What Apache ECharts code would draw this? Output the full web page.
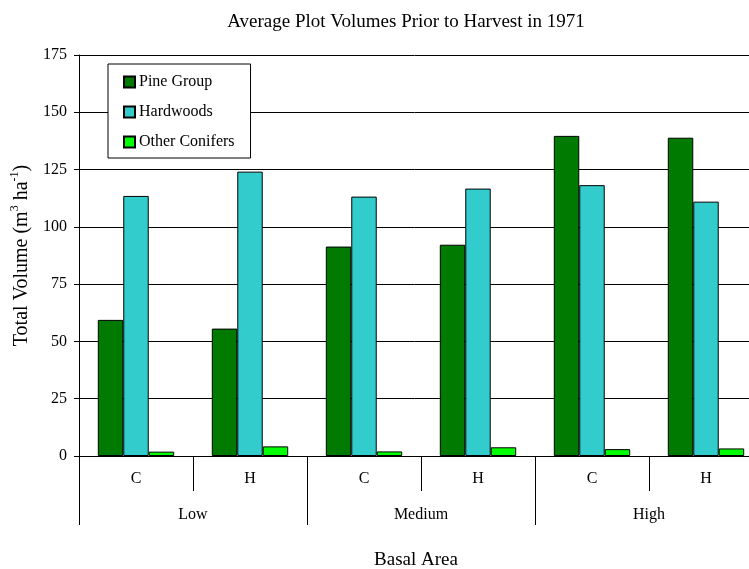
<!DOCTYPE html>
<html>
<head>
<meta charset="utf-8">
<script src="https://cdn.jsdelivr.net/npm/echarts@6/dist/echarts.min.js"></script>
<style>
  html, body { margin: 0; padding: 0; background: #fff; }
  #main { width: 749px; height: 569px; }
</style>
</head>
<body>
<div id="main"></div>
<script>
// plot volumes before the 1971 harvest
var treatments = ['C', 'H', 'C', 'H', 'C', 'H'];
var basalAreas = ['Low', 'Medium', 'High'];
var pineGroup = [59.4, 55.6, 91.4, 92.2, 139.7, 138.9];
var hardwoods = [113.5, 124.1, 113.2, 116.7, 118.2, 111.0];
var otherConifers = [1.9, 4.2, 2.0, 3.8, 3.0, 3.3];

var font = '"Liberation Serif", "Times New Roman", serif';

var dom = document.getElementById('main');
var myChart = echarts.init(dom);

var barStyle = function (color) {
    return { color: color, borderColor: '#000', borderWidth: 1 };
};

var option = {
    animation: false,
    textStyle: { fontFamily: font, color: '#000' },
    title: {
        text: 'Average Plot Volumes Prior to Harvest in 1971',
        left: 401,
        textAlign: 'center',
        top: 8,
        textStyle: { fontFamily: font, fontSize: 19, fontWeight: 'normal', color: '#000' }
    },
    legend: {
        orient: 'vertical',
        left: 108,
        top: 64,
        padding: [10, 16, 8, 15],
        itemGap: 14,
        itemWidth: 11,
        itemHeight: 11,
        icon: 'rect',
        backgroundColor: '#fff',
        borderColor: '#000',
        borderWidth: 1,
        textStyle: { fontFamily: font, fontSize: 16, color: '#000', padding: [0, 0, 0, -1] },
        data: ['Pine Group', 'Hardwoods', 'Other Conifers']
    },
    grid: { left: 79, top: 55, bottom: 113, right: -14, outerBoundsMode: 'none' },
    xAxis: [
        {
            type: 'category',
            position: 'bottom',
            data: treatments,
            axisLine: { lineStyle: { color: '#000', width: 1 } },
            axisTick: { show: true, interval: 0, length: 35, lineStyle: { color: '#000' } },
            axisLabel: { interval: 0, margin: 15, fontFamily: font, fontSize: 16, color: '#000' }
        },
        {
            type: 'category',
            position: 'bottom',
            data: basalAreas,
            axisLine: { show: false },
            axisTick: { show: true, interval: 0, length: 69, lineStyle: { color: '#000' } },
            axisLabel: { interval: 0, margin: 51, fontFamily: font, fontSize: 16, color: '#000' },
            name: 'Basal Area',
            nameLocation: 'middle',
            nameGap: 95,
            nameTextStyle: { fontFamily: font, fontSize: 19, color: '#000', padding: [0, 10, 0, 0] }
        }
    ],
    yAxis: {
        type: 'value',
        min: 0,
        max: 175,
        interval: 25,
        axisLine: { show: true, lineStyle: { color: '#000' } },
        axisTick: { show: true, length: 5, lineStyle: { color: '#000' } },
        axisLabel: { margin: 12, fontFamily: font, fontSize: 16, color: '#000' },
        splitLine: { lineStyle: { color: '#000', width: 1 } },
        name: '{n|Total Volume (m}{s|3}{n| ha}{s|-1}{n|)}',
        nameLocation: 'middle',
        nameGap: 45,
        nameTextStyle: {
            fontFamily: font,
            rich: {
                n: { fontFamily: font, fontSize: 20, color: '#000', lineHeight: 23, verticalAlign: 'bottom' },
                s: { fontFamily: font, fontSize: 12, color: '#000', lineHeight: 23, verticalAlign: 'top' }
            }
        }
    },
    series: [
        {
            name: 'Pine Group', type: 'bar', xAxisIndex: 0,
            barGap: '0%', barCategoryGap: '33%',
            itemStyle: barStyle('#007A00'),
            data: pineGroup
        },
        {
            name: 'Hardwoods', type: 'bar', xAxisIndex: 0,
            itemStyle: barStyle('#33CCCC'),
            data: hardwoods
        },
        {
            name: 'Other Conifers', type: 'bar', xAxisIndex: 0,
            itemStyle: barStyle('#00FF00'),
            data: otherConifers
        }
    ]
};

if (option && typeof option === 'object') {
    myChart.setOption(option);
}
</script>
</body>
</html>
